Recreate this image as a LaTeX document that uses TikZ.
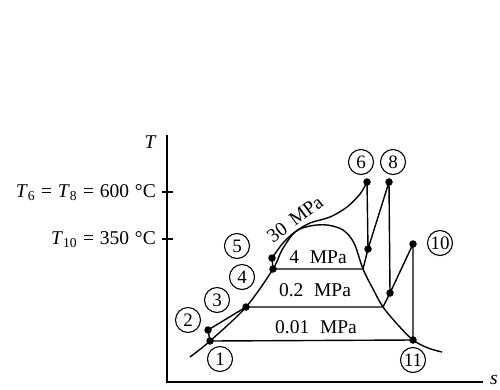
\documentclass[tikz,border=0pt]{standalone}
\usepackage{fontspec}
\setmainfont{Liberation Serif}
\begin{document}
\begin{tikzpicture}[x=1pt,y=-1pt,
  curve/.style={line width=1.4pt},
  axisline/.style={line width=1.6pt},
  dot/.style={circle,fill=black,inner sep=0pt,minimum size=7.5pt},
  num/.style={circle,draw,line width=1.1pt,inner sep=0pt,minimum size=25pt,font=\fontsize{19}{19}\selectfont},
  txt/.style={font=\fontsize{19.5}{22}\selectfont,inner sep=0pt}]
\useasboundingbox (0,0) rectangle (500,389);
% axes
\coordinate (o) at (167,382);
\coordinate (ytop) at (167,135);
\coordinate (xend) at (483,382);
\draw[axisline] (ytop) -- (o) -- (xend);
\node[txt,font=\fontsize{19.5}{22}\selectfont\itshape] (Tlab) at (150,142) {T};
\node[txt,font=\fontsize{19.5}{22}\selectfont\itshape] (slab) at (494,380) {s};
\coordinate (t6) at (167,192);
\coordinate (t10) at (167,239);
\draw[axisline] ([xshift=-5pt]t6) -- ([xshift=6pt]t6);
\draw[axisline] ([xshift=-5pt]t10) -- ([xshift=6pt]t10);
\node[txt,anchor=east] (l6) at (156,193) {\textit{T}\textsubscript{6}\hspace{0.3em}=\hspace{0.3em}\textit{T}\textsubscript{8}\hspace{0.3em}=\hspace{0.3em}600\hspace{0.3em}°C};
\node[txt,anchor=east] (l10) at (156,240) {\textit{T}\textsubscript{10}\hspace{0.3em}=\hspace{0.3em}350\hspace{0.3em}°C};
% state points
\node[dot] (p1) at (210,341) {};
\node[dot] (p2) at (208,330) {};
\node[dot] (p3) at (246,307) {};
\node[dot] (p4) at (273,269) {};
\node[dot] (p5) at (272,258) {};
\node[dot] (p6) at (367,182) {};
\node[dot] (p7) at (368,249) {};
\node[dot] (p8) at (389,182) {};
\node[dot] (p9) at (390,293) {};
\node[dot] (p10) at (413,244) {};
\node[dot] (p11) at (413,340) {};
\coordinate (g4) at (363,269);
\coordinate (g2) at (383,307);
% saturation dome
\draw[curve] plot[smooth,tension=0.55] coordinates {(190,357) (p1.center) (p3.center) (p4.center) (282,250) (295,232) (310,226) (327,225) (343,230) (354,243) (g4) (373,289) (g2) (398,325) (p11.center) (428,348) (442,352)};
% 30 MPa isobar
\draw[curve] plot[smooth,tension=0.55] coordinates {(p5.center) (283,243) (295,232) (310,223) (330,217) (347,207) (360,194) (p6.center)};
% cycle lines
\draw[curve] (p1.center) -- (p2.center) -- (p3.center);
\draw[curve] (p4.center) -- (p5.center);
\draw[curve] (p4.center) -- (g4) -- (p7.center);
\draw[curve] (p3.center) -- (g2) -- (p9.center);
\draw[curve] (p6.center) -- (p7.center) -- (p8.center) -- (p9.center) -- (p10.center) -- (p11.center) -- (p1.center);
% isobar labels
\node[txt,rotate=37] (l30) at (295,219) {30\hspace{0.4em}MPa};
\node[txt] (l4) at (318,257) {4\hspace{0.55em}MPa};
\node[txt] (l02) at (315,290) {0.2\hspace{0.55em}MPa};
\node[txt] (l001) at (316,327) {0.01\hspace{0.55em}MPa};
% state numbers
\node[num] (n1) at (220,359) {1};
\node[num] (n2) at (188,320) {2};
\node[num] (n3) at (217,300) {3};
\node[num] (n4) at (242,277) {4};
\node[num] (n5) at (237,246) {5};
\node[num] (n6) at (361,162) {6};
\node[num] (n8) at (393,162) {8};
\node[num] (n10) at (440,243) {10};
\node[num] (n11) at (413,360) {11};
\end{tikzpicture}
\end{document}
